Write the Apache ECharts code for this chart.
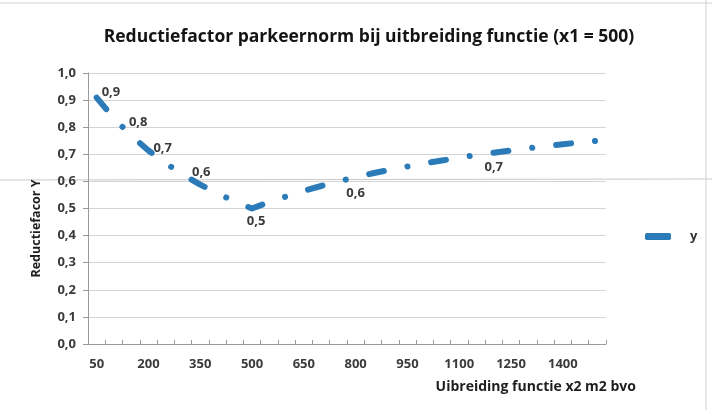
<!DOCTYPE html>
<html>
<head>
<meta charset="utf-8">
<script src="https://cdn.jsdelivr.net/npm/echarts@6/dist/echarts.min.js"></script>
<style>
  html, body { margin: 0; padding: 0; background: #fff; }
  #chart { width: 712px; height: 410px; }
</style>
</head>
<body>
<div id="chart"></div>
<script>
// x2 (m2 bvo), stappen van 50
const categories = ['50','100','150','200','250','300','350','400','450','500',
  '550','600','650','700','750','800','850','900','950','1000',
  '1050','1100','1150','1200','1250','1300','1350','1400','1450','1500'];
// reductiefactor y
const yValues = [0.909, 0.833, 0.769, 0.714, 0.667, 0.625, 0.588, 0.556, 0.526, 0.500,
  0.524, 0.545, 0.565, 0.583, 0.600, 0.615, 0.630, 0.643, 0.655, 0.667,
  0.677, 0.688, 0.697, 0.706, 0.714, 0.722, 0.730, 0.737, 0.744, 0.750];
// punten met een datalabel
const labelledIdx = [0, 1, 3, 5, 9, 15, 23];

const FONT = 'Open Sans';
const BLUE = '#2b7bb9';
const comma = v => v.toFixed(1).replace('.', ',');

// plaats van de labels (zoals in het origineel handmatig verschoven)
const labelPos = {
  0: { position: 'right', offset: [0, -5] },
  1: { position: 'right', offset: [10, 4] },
  3: { position: 'right', offset: [0, -2] },
  5: { position: 'right', offset: [4, -2] },
  9: { position: 'bottom', offset: [4, 1] },
  15: { position: 'bottom', offset: [0, 4] },
  23: { position: 'bottom', offset: [0, 3] }
};

const seriesData = yValues.map((v, i) => {
  if (labelledIdx.indexOf(i) < 0) return v;
  return { value: v, label: Object.assign({ show: true }, labelPos[i]) };
});

const chart = echarts.init(document.getElementById('chart'));
chart.setOption({
  backgroundColor: '#fff',
  animation: false,
  textStyle: { fontFamily: FONT },
  title: {
    text: 'Reductiefactor parkeernorm bij uitbreiding functie (x1 = 500)',
    left: 364, top: 23, textAlign: 'center',
    textStyle: { fontFamily: FONT, fontSize: 17.5, fontWeight: 'bold', color: '#141414' }
  },
  grid: { left: 88, right: 106, top: 73, bottom: 66 },
  legend: {
    orient: 'vertical', left: 640, top: 225,
    itemWidth: 26, itemHeight: 7, icon: 'roundRect',
    itemStyle: { color: BLUE, opacity: 1 },
    textStyle: { fontFamily: FONT, fontSize: 13, fontWeight: 'bold', color: '#333', padding: [0, 0, 0, 14] },
    data: ['y']
  },
  xAxis: {
    type: 'category',
    data: categories,
    boundaryGap: true,
    name: 'Uibreiding functie x2 m2 bvo',
    nameLocation: 'end', nameGap: 30,
    nameTextStyle: { fontFamily: FONT, fontSize: 14, fontWeight: 'bold', color: '#1e1e1e',
      align: 'right', verticalAlign: 'top', padding: [36, 0, 0, 0] },
    axisLine: { lineStyle: { color: '#9a9a9a', width: 1 } },
    axisTick: { show: true, inside: true, length: 4, interval: 0, lineStyle: { color: '#9a9a9a' } },
    axisLabel: { interval: 2, margin: 14, fontFamily: FONT, fontSize: 13, fontWeight: 'bold', color: '#3a3a3a' },
    splitLine: { show: false }
  },
  yAxis: {
    type: 'value',
    min: 0, max: 1, interval: 0.1,
    name: 'Reductiefacor Y',
    nameLocation: 'middle', nameGap: 45, nameRotate: 90,
    nameTextStyle: { fontFamily: FONT, fontSize: 12.5, fontWeight: 'bold', color: '#1e1e1e', padding: [0, 40, 0, 0] },
    axisLine: { show: true, lineStyle: { color: '#9a9a9a', width: 1 } },
    axisTick: { show: true, length: 5, lineStyle: { color: '#9a9a9a' } },
    axisLabel: { margin: 12, fontFamily: FONT, fontSize: 13, fontWeight: 'bold', color: '#3a3a3a', formatter: comma },
    splitLine: { lineStyle: { color: '#d4d4d4', width: 1 } }
  },
  series: [{
    name: 'y',
    type: 'line',
    data: seriesData,
    showSymbol: true,
    symbol: 'circle',
    symbolSize: 0,
    color: BLUE,
    lineStyle: { color: BLUE, width: 6, cap: 'round', join: 'round', type: [15, 24, 0.1, 24] },
    label: {
      fontFamily: FONT, fontSize: 13, fontWeight: 'bold', color: '#3a3a3a',
      formatter: p => comma(p.value)
    }
  }],
  graphic: [
    // scanlijn en kader van het origineel
    { type: 'line', shape: { x1: 0, y1: 180, x2: 712, y2: 179 }, style: { stroke: '#c8c8c8', lineWidth: 1 }, silent: true },
    { type: 'line', shape: { x1: 0, y1: 3, x2: 712, y2: 3 }, style: { stroke: '#d0d0d0', lineWidth: 1 }, silent: true },
    { type: 'line', shape: { x1: 706, y1: 0, x2: 706, y2: 410 }, style: { stroke: '#d0d0d0', lineWidth: 1 }, silent: true }
  ]
});
</script>
</body>
</html>
